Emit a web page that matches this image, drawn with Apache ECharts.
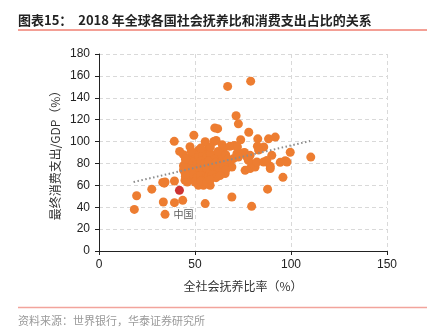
<!DOCTYPE html>
<html>
<head>
<meta charset="utf-8">
<script src="https://cdn.jsdelivr.net/npm/echarts@6/dist/echarts.min.js"></script>
<style>
  html, body { margin: 0; padding: 0; background: #fff; }
  #chart { width: 434px; height: 329px; }
</style>
</head>
<body>
<div id="chart"></div>
<script>
// Total dependency ratio (%) for each country, 2018
const dependencyRatio = [
  18.4, 19.6, 27.5, 33.2, 34.0, 34.4, 33.5, 39.3, 43.6, 39.3, 34.4, 44.8, 55.3, 69.2, 79.5,
  87.8, 95.8, 110.3, 99.6, 90.0, 67.0, 79.0, 71.4, 72.6, 78.0, 49.4, 39.2, 60.3, 61.8, 55.3,
  59.8, 61.0, 42.0, 47.4, 56.7, 51.8, 64.2, 64.8, 68.2, 71.5, 73.8, 75.8, 61.9, 64.0, 60.5,
  71.8, 67.4, 69.2, 65.7, 64.0, 76.1, 78.7, 81.3, 89.2, 89.2, 82.7, 88.3, 91.8, 82.5, 85.8,
  83.1, 75.2, 77.0, 78.7, 70.4, 72.1, 71.8, 77.8, 79.6, 82.2, 85.7, 87.4, 94.4, 97.0, 97.9,
  70.0, 72.6, 54.4, 57.9, 51.8, 49.2,
  44, 46, 48, 50, 52, 54, 56, 58, 60, 45, 47, 49, 51, 53, 55, 57, 59, 61, 63,
  44, 46, 48, 50, 52, 54, 56, 58, 60, 62, 45, 47, 49, 51, 53, 55, 57, 59, 61,
  46, 50, 53, 56, 58, 48, 53, 58, 62, 66, 65, 67, 66, 63, 44, 45, 45
];
// Final consumption expenditure as a share of GDP (%)
const consumptionShare = [
  38.0, 50.5, 56.5, 62.7, 62.0, 33.5, 44.8, 44.2, 46.3, 64.0, 63.0, 64.6, 43.3, 49.3, 40.8,
  56.5, 67.3, 85.8, 90.2, 87.4, 150.4, 155.2, 123.6, 116.2, 108.5, 105.8, 100.2, 112.5, 111.8, 99.8,
  100.0, 101.0, 91.0, 95.3, 93.0, 92.0, 97.0, 93.5, 95.6, 96.0, 101.7, 90.0, 84.4, 85.8, 87.4,
  86.8, 79.8, 76.7, 70.7, 72.0, 73.7, 75.3, 76.7, 75.3, 77.4, 102.5, 102.5, 104.1, 95.8, 95.0,
  92.3, 89.5, 86.0, 87.4, 96.5, 95.0, 88.9, 82.8, 79.8, 81.3, 81.3, 82.8, 81.0, 82.5, 81.3,
  84.4, 85.8, 60.0, 60.0, 60.0, 67.6,
  88, 84, 86, 88, 85, 88, 86, 89, 84, 80, 78, 81, 79, 82, 80, 82, 79, 81, 80,
  74, 72, 75, 73, 76, 73, 75, 72, 76, 74, 68, 66, 70, 67, 69, 66, 68, 70, 67,
  63, 63, 64, 63, 65, 91, 94, 95, 91, 88, 78, 84, 74, 69, 78, 84, 70
];
// China: [dependency ratio, consumption share]
const chinaPoint = [41.9, 55.4];
const chinaLabel = '中国';
// Fitted linear trend, drawn between its two end points
const trendEnds = [[18, 63], [110, 100.5]];
const xTicks = { min: 0, max: 150, interval: 50 };
const yTicks = { min: 0, max: 180, interval: 20 };

const countryPoints = dependencyRatio.map((x, i) => [x, consumptionShare[i]]);

const cjk = '"Noto Sans CJK SC", sans-serif';
const latin = '"Liberation Sans", Arial, sans-serif';

const chart = echarts.init(document.getElementById('chart'), null, { renderer: 'canvas' });

chart.setOption({
  animation: false,
  backgroundColor: '#ffffff',
  grid: { left: 99, right: 47, top: 54, bottom: 78, containLabel: false },
  xAxis: {
    type: 'value',
    min: xTicks.min, max: xTicks.max, interval: xTicks.interval,
    name: '全社会抚养比率（%）',
    nameLocation: 'middle',
    nameGap: 29,
    nameMoveOverlap: false,
    nameTextStyle: { fontFamily: cjk, fontSize: 12, color: '#333' },
    axisLine: { show: true, onZero: false, lineStyle: { color: '#222', width: 1 } },
    axisTick: { show: true, length: 4, inside: false, lineStyle: { color: '#222' } },
    axisLabel: { fontFamily: latin, fontSize: 12, color: '#222', margin: 8 },
    splitLine: { show: true, lineStyle: { color: '#d9d9d9', type: [4, 3], width: 1 } }
  },
  yAxis: {
    type: 'value',
    min: yTicks.min, max: yTicks.max, interval: yTicks.interval,
    name: '最终消费支出/GDP（%）',
    nameLocation: 'middle',
    nameGap: 38,
    nameMoveOverlap: false,
    nameRotate: 90,
    nameTextStyle: { fontFamily: cjk, fontSize: 12, color: '#333' },
    axisLine: { show: true, onZero: false, lineStyle: { color: '#222', width: 1 } },
    axisTick: { show: true, length: 4, inside: false, lineStyle: { color: '#222' } },
    axisLabel: { fontFamily: latin, fontSize: 12, color: '#222', margin: 9 },
    splitLine: { show: true, lineStyle: { color: '#d9d9d9', type: [4, 3], width: 1 } }
  },
  series: [
    {
      name: 'countries',
      type: 'scatter',
      symbol: 'circle',
      symbolSize: 9,
      itemStyle: { color: '#ED7D31', opacity: 1 },
      data: countryPoints,
      z: 2
    },
    {
      name: 'china',
      type: 'scatter',
      symbol: 'circle',
      symbolSize: 9,
      itemStyle: { color: '#C00000' },
      label: {
        show: true,
        formatter: chinaLabel,
        position: 'bottom',
        distance: 14,
        offset: [4, 0],
        fontFamily: cjk,
        fontSize: 10,
        color: '#333'
      },
      data: [chinaPoint],
      z: 3
    },
    {
      name: 'trend',
      type: 'line',
      symbol: 'none',
      silent: true,
      lineStyle: { color: '#8c8c8c', width: 2, type: [1.5, 2.5] },
      data: trendEnds,
      z: 4
    }
  ],
  graphic: [
    {
      type: 'text', left: 18, top: 14,
      style: {
        text: '图表15：  2018 年全球各国社会抚养比和消费支出占比的关系',
        fontFamily: cjk, fontSize: 13, fontWeight: 'bold', fill: '#222'
      }
    },
    {
      type: 'line', shape: { x1: 18, y1: 30, x2: 427, y2: 30 },
      style: { stroke: '#E8412C', lineWidth: 1 }
    },
    {
      type: 'line', shape: { x1: 18, y1: 307.5, x2: 427, y2: 307.5 },
      style: { stroke: '#F2A49C', lineWidth: 1.5 }
    },
    {
      type: 'text', left: 18, top: 315,
      style: {
        text: '资料来源：世界银行，华泰证券研究所',
        fontFamily: cjk, fontSize: 11, fill: '#9a9a9a'
      }
    }
  ]
});
</script>
</body>
</html>
